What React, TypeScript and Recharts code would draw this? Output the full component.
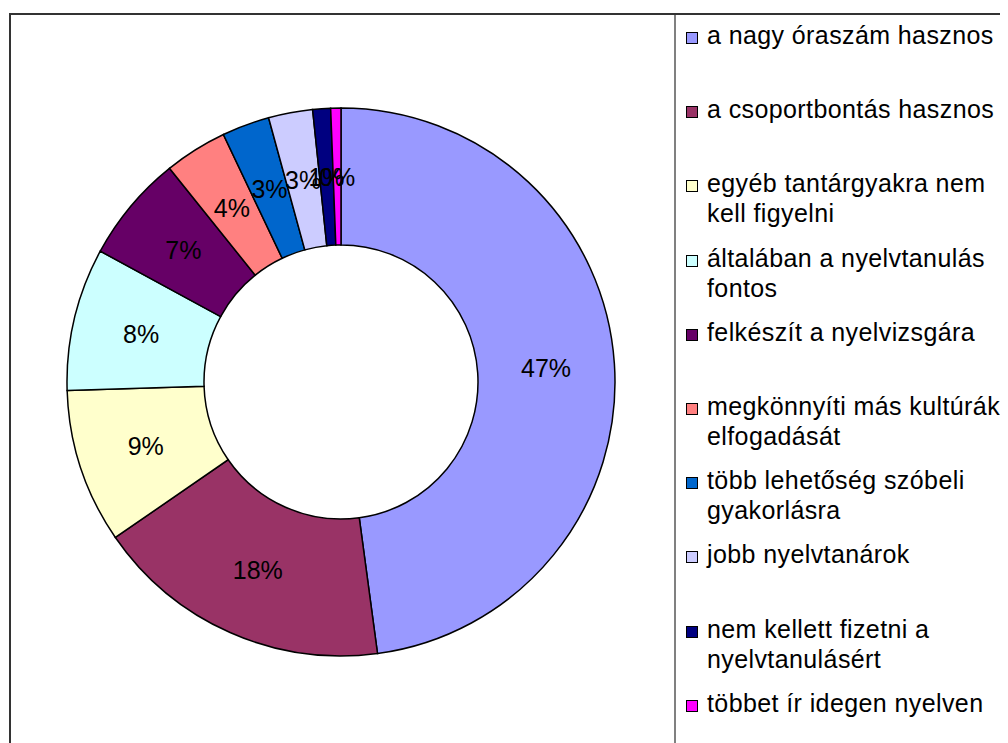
import React from "react";
import { PieChart, Pie, Cell, Legend } from "recharts";

const categories = [
  "a nagy óraszám hasznos",
  "a csoportbontás hasznos",
  "egyéb tantárgyakra nem\nkell figyelni",
  "általában a nyelvtanulás\nfontos",
  "felkészít a nyelvizsgára",
  "megkönnyíti más kultúrák\nelfogadását",
  "több lehetőség szóbeli\ngyakorlásra",
  "jobb nyelvtanárok",
  "nem kellett fizetni a\nnyelvtanulásért",
  "többet ír idegen nyelven",
];

const values = [47.8, 17.5, 9.1, 8.4, 6.3, 3.7, 2.8, 2.6, 1.05, 0.6];

const percentLabels = ["47%", "18%", "9%", "8%", "7%", "4%", "3%", "3%", "1%", "0%"];

const colors = [
  "#9999FF",
  "#993366",
  "#FFFFCC",
  "#CCFFFF",
  "#660066",
  "#FF8080",
  "#0066CC",
  "#CCCCFF",
  "#000080",
  "#FF00FF",
];

const data = categories.map((name, i) => ({ name, value: values[i], label: percentLabels[i] }));

const RADIAN = Math.PI / 180;
const FONT = "'Liberation Sans', Arial, sans-serif";

const renderLabel = (props: any) => {
  const { cx, cy, midAngle, innerRadius, outerRadius, index } = props;
  const r = (innerRadius + outerRadius) / 2;
  const x = cx + r * Math.cos(-midAngle * RADIAN);
  const y = cy + r * Math.sin(-midAngle * RADIAN);
  return (
    <text
      x={x}
      y={y}
      fill="#000"
      textAnchor="middle"
      dominantBaseline="central"
      fontSize={25}
      fontFamily={FONT}
    >
      {data[index].label}
    </text>
  );
};

const LegendContent = () => (
  <div style={{ fontFamily: FONT, fontSize: 25, color: "#000", letterSpacing: 0.4 }}>
    {categories.map((name, i) => (
      <div
        key={name}
        style={{
          height: 74.2,
          display: "flex",
          alignItems: "flex-start",
        }}
      >
        <div
          style={{
            width: 10,
            height: 10,
            border: "1.5px solid #000",
            background: colors[i],
            marginTop: 12,
            marginLeft: 10,
            marginRight: 9,
            flexShrink: 0,
          }}
        />
        <div style={{ whiteSpace: "pre-line", lineHeight: "30px" }}>{name}</div>
      </div>
    ))}
  </div>
);

export default function App() {
  return (
    <div
      style={{
        position: "relative",
        width: 1000,
        height: 735,
        overflow: "hidden",
        background: "#fff",
      }}
    >
      <div
        style={{
          position: "absolute",
          left: 1,
          top: 5,
          width: 1200,
          height: 900,
          borderLeft: "2px solid #333",
          borderTop: "2px solid #333",
        }}
      />
      <div
        style={{
          position: "absolute",
          left: 666,
          top: 7,
          width: 2,
          height: 900,
          background: "#808080",
        }}
      />
      <div style={{ position: "absolute", left: 0, top: 0 }}>
        <PieChart
          width={1000}
          height={735}
          margin={{ top: 0, right: 0, bottom: 0, left: 0 }}
        >
          <Pie
            data={data}
            dataKey="value"
            nameKey="name"
            cx={333}
            cy={374}
            outerRadius={274}
            innerRadius={137}
            startAngle={90}
            endAngle={-270}
            stroke="#000"
            strokeWidth={1.5}
            label={renderLabel}
            labelLine={false}
            isAnimationActive={false}
          >
            {data.map((d, i) => (
              <Cell key={d.name} fill={colors[i]} />
            ))}
          </Pie>
          <Legend
            layout="vertical"
            align="right"
            verticalAlign="top"
            content={<LegendContent />}
            wrapperStyle={{ left: 668, top: 12, width: 332, height: 740 }}
          />
        </PieChart>
      </div>
    </div>
  );
}
